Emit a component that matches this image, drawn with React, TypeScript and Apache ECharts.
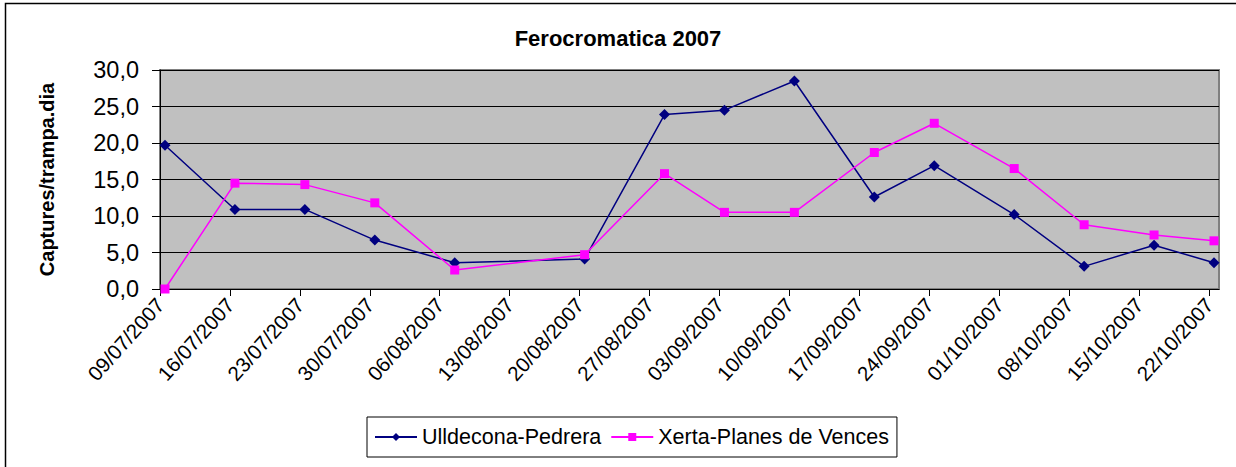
import React, { useEffect, useRef } from "react";
import * as echarts from "echarts";

const dates = [
  "09/07/2007", "16/07/2007", "23/07/2007", "30/07/2007", "07/08/2007",
  "20/08/2007", "28/08/2007", "03/09/2007", "10/09/2007", "18/09/2007",
  "24/09/2007", "02/10/2007", "09/10/2007", "16/10/2007", "22/10/2007",
];
const ulldecona = [19.7, 10.9, 10.9, 6.7, 3.6, 4.1, 23.9, 24.5, 28.5, 12.6, 16.9, 10.2, 3.1, 6.0, 3.6];
const xerta = [0.0, 14.5, 14.3, 11.8, 2.6, 4.7, 15.8, 10.5, 10.5, 18.7, 22.7, 16.5, 8.8, 7.4, 6.6];
const tickLabels = [
  "09/07/2007", "16/07/2007", "23/07/2007", "30/07/2007", "06/08/2007", "13/08/2007",
  "20/08/2007", "27/08/2007", "03/09/2007", "10/09/2007", "17/09/2007", "24/09/2007",
  "01/10/2007", "08/10/2007", "15/10/2007", "22/10/2007",
];
const yTicks = [0, 5, 10, 15, 20, 25, 30];

const toUTC = (s: string) => {
  const [d, m, y] = s.split("/").map(Number);
  return Date.UTC(y, m - 1, d);
};
const DAY = 86400000;
const origin = toUTC(tickLabels[0]);
const dayOffset = (s: string) => Math.round((toUTC(s) - origin) / DAY);
const fmtDate = (off: number) => {
  const d = new Date(origin + off * DAY);
  const p = (n: number) => String(n).padStart(2, "0");
  return `${p(d.getUTCDate())}/${p(d.getUTCMonth() + 1)}/${d.getUTCFullYear()}`;
};

const FONT = "'Liberation Sans', Arial, sans-serif";

export default function App() {
  const ref = useRef<HTMLDivElement>(null);
  useEffect(() => {
    if (!ref.current) return;
    const chart = echarts.init(ref.current, null, { renderer: "svg" });
    const tickVals = tickLabels.map(dayOffset);
    const lastTick = tickVals[tickVals.length - 1];
    chart.setOption({
      animation: false,
      backgroundColor: "#ffffff",
      textStyle: { fontFamily: FONT },
      title: {
        text: "Ferocromatica 2007",
        left: "center",
        top: 22,
        textStyle: { fontFamily: FONT, fontSize: 22, fontWeight: "bold", color: "#000" },
      },
      graphic: [
        {
          type: "rect",
          shape: { x: 5.5, y: 3.5, width: 1400, height: 700 },
          style: { fill: "none", stroke: "#000", lineWidth: 1.5 },
          silent: true,
        },
      ],
      legend: {
        left: 367,
        top: 417,
        orient: "horizontal",
        padding: [9, 8, 9, 7],
        borderColor: "#000",
        borderWidth: 1,
        itemWidth: 42,
        itemHeight: 10,
        itemGap: 9,
        textStyle: { fontFamily: FONT, fontSize: 21.5, color: "#000" },
        data: ["Ulldecona-Pedrera", "Xerta-Planes de Vences"],
      },
      grid: {
        left: 160,
        top: 70,
        width: 1059,
        height: 219,
        show: true,
        backgroundColor: "#C0C0C0",
        borderColor: "#808080",
        borderWidth: 2,
      },
      xAxis: {
        type: "value",
        min: 0,
        max: lastTick + 1,
        axisLine: { show: true, lineStyle: { color: "#000", width: 1 } },
        axisTick: {
          show: true,
          customValues: tickVals,
          length: 7,
          lineStyle: { color: "#000" },
        },
        axisLabel: {
          customValues: tickVals,
          rotate: 48,
          margin: 12,
          fontFamily: FONT,
          fontSize: 20.5,
          color: "#000",
          formatter: (v: number) => fmtDate(v),
        },
        splitLine: { show: false },
      },
      yAxis: {
        type: "value",
        min: 0,
        max: 30,
        interval: 5,
        name: "Captures/trampa.dia",
        nameLocation: "middle",
        nameRotate: 90,
        nameGap: 103,
        nameTextStyle: { fontFamily: FONT, fontSize: 20, fontWeight: "bold", color: "#000" },
        axisLine: { show: true, lineStyle: { color: "#000", width: 1 } },
        axisTick: { show: true, length: 8, lineStyle: { color: "#000" }, customValues: yTicks },
        axisLabel: {
          fontFamily: FONT,
          fontSize: 23.5,
          color: "#000",
          margin: 21,
          formatter: (v: number) => v.toFixed(1).replace(".", ","),
        },
        splitLine: { show: true, lineStyle: { color: "#000", width: 1 } },
      },
      series: [
        {
          name: "Ulldecona-Pedrera",
          type: "line",
          data: dates.map((d, i) => [dayOffset(d) + 0.5, ulldecona[i]]),
          symbol: "diamond",
          symbolSize: 11,
          lineStyle: { color: "#000080", width: 1.5 },
          itemStyle: { color: "#000080" },
        },
        {
          name: "Xerta-Planes de Vences",
          type: "line",
          data: dates.map((d, i) => [dayOffset(d) + 0.5, xerta[i]]),
          symbol: "rect",
          symbolSize: 9,
          lineStyle: { color: "#FF00FF", width: 1.5 },
          itemStyle: { color: "#FF00FF" },
        },
      ],
    });
    return () => chart.dispose();
  }, []);
  return (
    <div
      ref={ref}
      style={{ position: "fixed", left: 0, top: 0, width: 1236, height: 467 }}
    />
  );
}
